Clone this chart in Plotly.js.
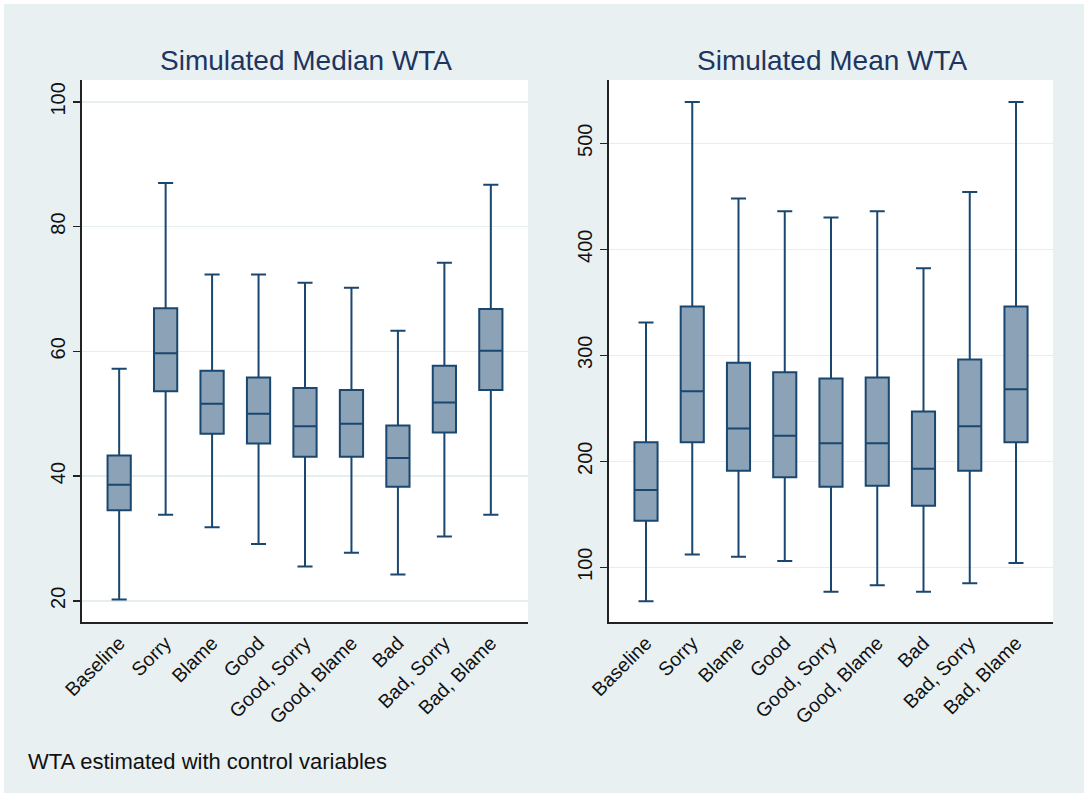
<!DOCTYPE html>
<html>
<head>
<meta charset="utf-8">
<script src="https://cdn.plot.ly/plotly-3.0.1.min.js"></script>
<style>html,body{margin:0;padding:0;background:#fff;}#chart{width:1084px;height:793px;}</style>
</head>
<body>
<div id="chart"></div>
<script>
const categories = ["Baseline","Sorry","Blame","Good","Good, Sorry","Good, Blame","Bad","Bad, Sorry","Bad, Blame"];

// Simulated Median WTA
const medLower  = [20.2, 33.8, 31.8, 29.1, 25.5, 27.7, 24.2, 30.3, 33.8];
const medQ1     = [34.5, 53.6, 46.8, 45.2, 43.1, 43.1, 38.3, 47.0, 53.8];
const medMedian = [38.6, 59.7, 51.6, 50.0, 48.0, 48.4, 42.9, 51.8, 60.1];
const medQ3     = [43.3, 66.9, 56.9, 55.8, 54.1, 53.8, 48.1, 57.7, 66.8];
const medUpper  = [57.2, 87.0, 72.3, 72.3, 71.0, 70.2, 63.3, 74.2, 86.7];

// Simulated Mean WTA
const meanLower  = [68, 112, 110, 106, 77, 83, 77, 85, 104];
const meanQ1     = [144, 218, 191, 185, 176, 177, 158, 191, 218];
const meanMedian = [173, 266, 231, 224, 217, 217, 193, 233, 268];
const meanQ3     = [218, 346, 293, 284, 278, 279, 247, 296, 346];
const meanUpper  = [331, 539, 448, 436, 430, 436, 382, 454, 539];

const medTicks = [20, 40, 60, 80, 100];
const meanTicks = [100, 200, 300, 400, 500];

const fill = "#8CA2B6";
const edge = "#1A476F";

function boxTrace(lo, q1, med, q3, hi, xa, ya) {
  return {
    type: "box", x: categories, xaxis: xa, yaxis: ya,
    lowerfence: lo, q1: q1, median: med, q3: q3, upperfence: hi,
    fillcolor: fill, line: {color: edge, width: 2},
    width: 0.5, whiskerwidth: 0.65, boxpoints: false,
    showlegend: false, hoverinfo: "skip"
  };
}

const data = [
  boxTrace(medLower, medQ1, medMedian, medQ3, medUpper, "x", "y"),
  boxTrace(meanLower, meanQ1, meanMedian, meanQ3, meanUpper, "x2", "y2")
];

const W = 1084, H = 793;
const fam = "Liberation Sans, Arial, sans-serif";
const font = {family: fam, size: 20, color: "#1a1a1a"};

const xCommon = {
  type: "category", range: [-0.8, 8.8], tickangle: -45, ticks: "",
  showline: true, linecolor: "#222", linewidth: 2, showgrid: false, zeroline: false,
  tickfont: {family: fam, size: 19.5, color: "#111"}, fixedrange: true
};
const yCommon = {
  showline: true, linecolor: "#222", linewidth: 2, ticks: "outside", ticklen: 7,
  tickwidth: 1.5, tickcolor: "#222", showgrid: true, gridcolor: "#E6EEF1", gridwidth: 1.5,
  zeroline: false, tickangle: -90, tickfont: {family: fam, size: 20, color: "#111"},
  fixedrange: true
};

const layout = {
  width: W, height: H,
  margin: {l: 0, r: 0, t: 0, b: 0},
  paper_bgcolor: "#E8F0F2", plot_bgcolor: "#FFFFFF",
  font: font,
  xaxis: Object.assign({}, xCommon, {domain: [82/W, 528/W], anchor: "y"}),
  yaxis: Object.assign({}, yCommon, {domain: [1-622/H, 1-80/H], anchor: "x",
    range: [16.6, 103.5], tickvals: medTicks, ticktext: medTicks.map(String)}),
  xaxis2: Object.assign({}, xCommon, {domain: [609/W, 1053/W], anchor: "y2"}),
  yaxis2: Object.assign({}, yCommon, {domain: [1-622/H, 1-80/H], anchor: "x2",
    range: [48.4, 559.7], tickvals: meanTicks, ticktext: meanTicks.map(String)}),
  shapes: [
    {type: "rect", xref: "paper", yref: "paper", x0: 0, x1: 1, y0: 1-4/H, y1: 1, fillcolor: "#fff", line: {width: 0}, layer: "below"},
    {type: "rect", xref: "paper", yref: "paper", x0: 0, x1: 4/W, y0: 0, y1: 1, fillcolor: "#fff", line: {width: 0}, layer: "below"}
  ],
  annotations: [
    {text: "Simulated Median WTA", xref: "paper", yref: "paper", x: 306/W, y: 1-60/H,
     xanchor: "center", yanchor: "middle", showarrow: false,
     font: {family: fam, size: 28, color: "#1E3560"}},
    {text: "Simulated Mean WTA", xref: "paper", yref: "paper", x: 832/W, y: 1-60/H,
     xanchor: "center", yanchor: "middle", showarrow: false,
     font: {family: fam, size: 28, color: "#1E3560"}},
    {text: "WTA estimated with control variables", xref: "paper", yref: "paper", x: 26/W, y: 1-761/H,
     xanchor: "left", yanchor: "middle", showarrow: false,
     font: {family: fam, size: 22, color: "#111"}}
  ]
};

Plotly.newPlot("chart", data, layout, {displayModeBar: false, staticPlot: true});
</script>
</body>
</html>
